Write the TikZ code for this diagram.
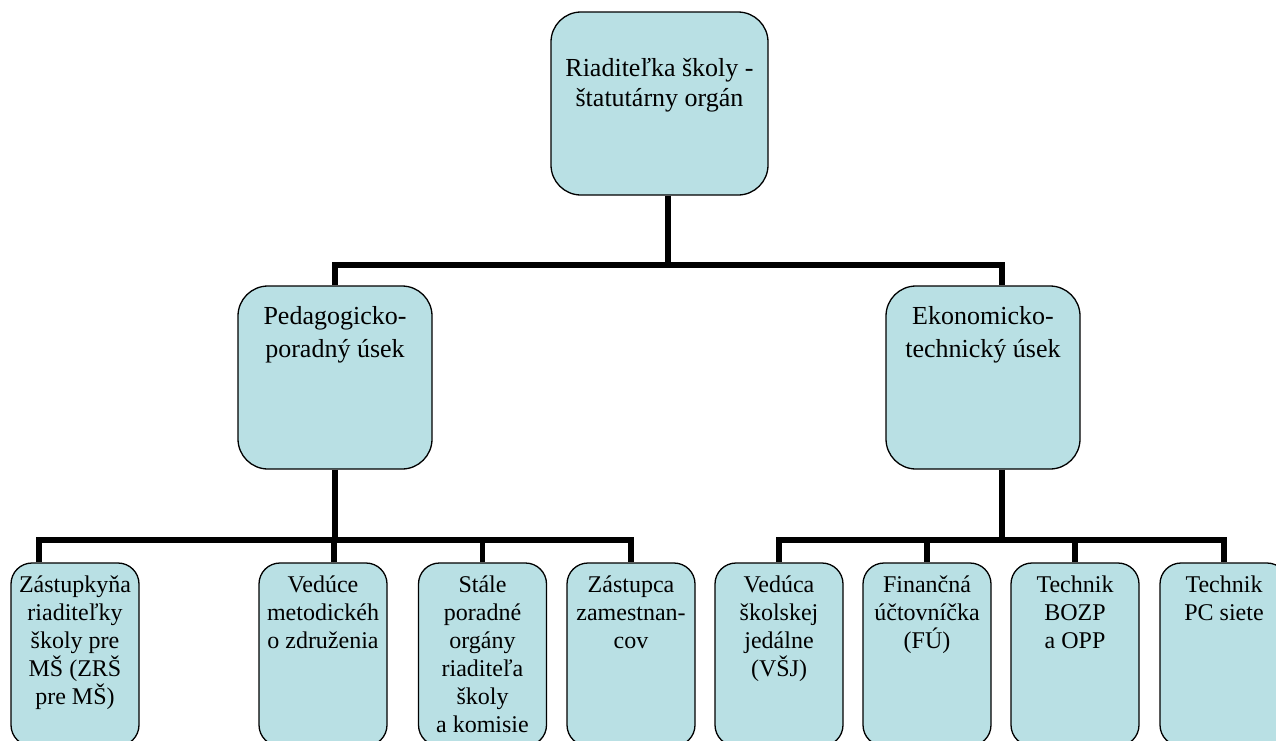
\documentclass[tikz,border=0pt]{standalone}
\usepackage{fontspec}
\setmainfont{Liberation Serif}
\usepackage{tikz}
\definecolor{boxblue}{RGB}{185,224,228}

\tikzset{
  unit/.style={draw=black, line width=1.3pt, fill=boxblue, inner sep=0pt},
  link/.style={line width=5.5pt},
}
\newcommand{\unitbox}[3]{\parbox[c][183pt][t]{#1pt}{\centering\rule{0pt}{#2pt}#3}}

\begin{document}
\begin{tikzpicture}[x=1pt, y=-1pt]
          \clip (0,0) rectangle (1276,740);
          \node[unit, rounded corners=30pt, font=\fontsize{26}{30}\selectfont] (dir) at (659.5,103.5) {\unitbox{217}{64}{Riaditeľka školy -\\ štatutárny orgán}};
          \node[unit, rounded corners=30pt, font=\fontsize{26}{33}\selectfont] (ped) at (335,377.5) {\unitbox{194}{38}{Pedagogicko-\\ poradný úsek}};
          \node[unit, rounded corners=30pt, font=\fontsize{26}{33}\selectfont] (eko) at (983,377.5) {\unitbox{194}{38}{Ekonomicko-\\ technický úsek}};

          \begin{scope}[every node/.style={unit, rounded corners=21pt, font=\fontsize{24}{28}\selectfont}]
          \node (b1) at (75,654.5) {\unitbox{128}{29}{Zástupkyňa\\ riaditeľky\\ školy pre\\ MŠ (ZRŠ\\ pre MŠ)}};
          \node (b2) at (323,654.5) {\unitbox{128}{29}{Vedúce\\ metodickéh\\ o združenia}};
          \node (b3) at (482.5,654.5) {\unitbox{128}{29}{Stále\\ poradné\\ orgány\\ riaditeľa\\ školy\\ a komisie}};
          \node (b4) at (631,654.5) {\unitbox{128}{29}{Zástupca\\ zamestnan-\\ cov}};
          \node (b5) at (779,654.5) {\unitbox{128}{29}{Vedúca\\ školskej\\ jedálne\\ (VŠJ)}};
          \node (b6) at (927,654.5) {\unitbox{128}{29}{Finančná\\ účtovníčka\\ (FÚ)}};
          \node (b7) at (1075,654.5) {\unitbox{128}{29}{Technik\\ BOZP\\ a OPP}};
          \node (b8) at (1224,654.5) {\unitbox{128}{29}{Technik\\ PC siete}};
          \end{scope}

          % bars between the levels
          \coordinate (topbar) at (668,265);
          \coordinate (pedbar) at (335,540);
          \coordinate (ekobar) at (1002,540);

          \draw[link] ([xshift=8.5pt]dir.south) -- (topbar);
          \draw[link] (ped.north) |- (topbar) -| ([xshift=19pt]eko.north);

          \draw[link] (ped.south) -- (pedbar);
          \draw[link] ([xshift=-36pt]b1.north) |- (pedbar) -| (b4.north);
          \draw[link] ([xshift=11pt]b2.north) |- (pedbar);
          \draw[link] (b3.north) |- (pedbar);

          \draw[link] ([xshift=19pt]eko.south) -- (ekobar);
          \draw[link] (b5.north) |- (ekobar) -| (b8.north);
          \draw[link] (b6.north) |- (ekobar);
          \draw[link] (b7.north) |- (ekobar);
        \end{tikzpicture}
\end{document}
